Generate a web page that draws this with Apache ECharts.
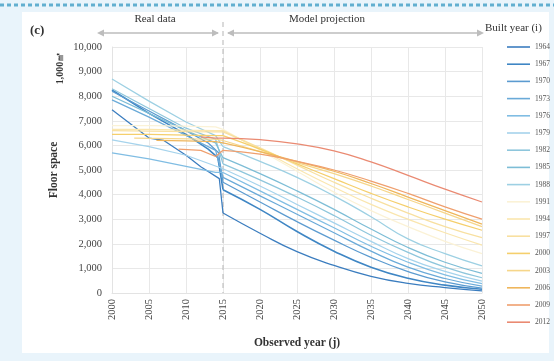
<!DOCTYPE html>
<html>
<head>
<meta charset="utf-8">
<script src="https://cdn.jsdelivr.net/npm/echarts@6/dist/echarts.min.js"></script>
<style>
  html, body { margin: 0; padding: 0; background: #e9f4fb; }
  #chart { width: 554px; height: 361px; }
</style>
</head>
<body>
<div id="chart"></div>
<script>
// Floor space (1,000 m²) by built-year cohort, observed 2000–2050
const builtYears = ['1964','1967','1970','1973','1976','1979','1982','1985','1988',
                    '1991','1994','1997','2000','2003','2006','2009','2012'];
const xTicks = [2000, 2005, 2010, 2015, 2020, 2025, 2030, 2035, 2040, 2045, 2050];
const yTicks = [0, 1000, 2000, 3000, 4000, 5000, 6000, 7000, 8000, 9000, 10000];
const boundaryYear = 2015;

// Observed data: [year, floor space]
const real1964 = [[2000,7450],[2005,6300],[2007,6200],[2010,5600],[2012,5130],[2014.5,4650],[2015,3250]];
const real1967 = [[2000,8250],[2005,7300],[2010,6450],[2013,5850],[2014.3,5500],[2015,4200]];
const real1970 = [[2000,8200],[2005,7400],[2010,6600],[2013,6100],[2014.4,5700],[2015,4500]];
const real1973 = [[2000,7850],[2005,7150],[2010,6400],[2014,5800],[2015,4700]];
const real1976 = [[2000,5700],[2005,5450],[2010,5150],[2014,4900],[2015,4900]];
const real1979 = [[2000,6220],[2005,5950],[2010,5600],[2015,5050]];
const real1982 = [[2000,8300],[2005,7500],[2010,6700],[2014,6250],[2015,5250]];
const real1985 = [[2000,8000],[2005,7300],[2010,6600],[2014,6100],[2015,5500]];
const real1988 = [[2000,8700],[2005,7800],[2010,6950],[2014,6400],[2015,5950]];
const real1991 = [[2000,6800],[2005,6800],[2010,6780],[2014,6750],[2015,6650]];
const real1994 = [[2000,6650],[2005,6650],[2010,6620],[2014,6600],[2015,6600]];
const real1997 = [[2000,6600],[2005,6580],[2010,6560],[2014,6550],[2015,6550]];
const real2000 = [[2000,6450],[2005,6450],[2010,6420],[2014,6400],[2015,6400]];
const real2003 = [[2003,6300],[2008,6280],[2014,6250],[2015,6200]];
const real2006 = [[2006,6200],[2010,6180],[2014,6150],[2015,6100]];
const real2009 = [[2009,5850],[2012,5800],[2014,5550],[2015,5800]];
const real2012 = [[2012,6350],[2014,6300],[2015,6300]];

// Model projection, one value per year in projYears
const projYears = [2015, 2020, 2025, 2030, 2035, 2040, 2045, 2050];
const proj1964 = [3250, 2430, 1680, 1120, 680, 390, 220, 90];
const proj1967 = [4200, 3400, 2500, 1700, 1050, 600, 320, 150];
const proj1970 = [4500, 3700, 2900, 2150, 1450, 870, 450, 200];
const proj1973 = [4700, 3950, 3200, 2450, 1700, 1050, 590, 280];
const proj1976 = [4900, 4150, 3400, 2650, 1900, 1250, 740, 380];
const proj1979 = [5050, 4350, 3600, 2850, 2100, 1400, 880, 480];
const proj1982 = [5250, 4600, 3900, 3150, 2350, 1650, 1050, 620];
const proj1985 = [5500, 4850, 4150, 3400, 2600, 1850, 1250, 800];
const proj1988 = [5950, 5350, 4700, 3950, 3100, 2200, 1600, 1100];
const proj1991 = [6650, 5800, 4950, 4100, 3350, 2700, 2100, 1600];
const proj1994 = [6600, 5850, 5050, 4300, 3600, 3000, 2450, 1950];
const proj1997 = [6550, 5900, 5200, 4500, 3850, 3250, 2700, 2250];
const proj2000 = [6400, 5850, 5250, 4650, 4050, 3500, 3000, 2550];
const proj2003 = [6200, 5750, 5300, 4850, 4350, 3800, 3250, 2700];
const proj2006 = [6100, 5750, 5350, 4950, 4450, 3900, 3350, 2800];
const proj2009 = [5800, 5650, 5350, 5000, 4550, 4050, 3500, 3000];
const proj2012 = [6300, 6230, 6060, 5780, 5330, 4780, 4220, 3700];

const realSets = [real1964, real1967, real1970, real1973, real1976, real1979, real1982, real1985, real1988,
                  real1991, real1994, real1997, real2000, real2003, real2006, real2009, real2012];
const projSets = [proj1964, proj1967, proj1970, proj1973, proj1976, proj1979, proj1982, proj1985, proj1988,
                  proj1991, proj1994, proj1997, proj2000, proj2003, proj2006, proj2009, proj2012];

const palette = ['#3b7dbf','#3f86c4','#5b9bd0','#6aaad8','#80bde3','#a5d3ec','#8ec6dc','#7dbdd6','#9dd0e3',
                 '#fbf2d6','#fae6ae','#f8e0a0','#f5cf6c','#f6d68a','#efb65c','#ef9f6e','#ea8a72'];

const FONT = '"Liberation Serif", "DejaVu Serif", serif';

const chart = echarts.init(document.getElementById('chart'), null, { renderer: 'canvas' });

const series = [];
builtYears.forEach((name, i) => {
  const color = palette[i];
  const width = i === 1 ? 1.6 : 1.25;
  series.push({
    name, type: 'line', data: realSets[i], symbol: 'none', smooth: false,
    lineStyle: { color, width }, itemStyle: { color }, z: 2 + i, silent: true
  });
  series.push({
    name, type: 'line', data: projYears.map((yr, k) => [yr, projSets[i][k]]),
    symbol: 'none', smooth: 0.5,
    lineStyle: { color, width }, itemStyle: { color }, z: 2 + i, silent: true
  });
});

const option = {
  animation: false,
  backgroundColor: '#e9f4fb',
  grid: { left: 112, right: 72, top: 47, bottom: 68 },
  xAxis: {
    type: 'value', min: xTicks[0], max: xTicks[xTicks.length - 1], interval: 5,
    name: 'Observed year (j)', nameLocation: 'middle', nameGap: 44,
    nameTextStyle: { fontFamily: FONT, fontSize: 11.5, fontWeight: 'bold', color: '#333' },
    axisLine: { lineStyle: { color: '#e3e3e3' } },
    axisTick: { show: false },
    axisLabel: { rotate: 90, margin: 6, fontFamily: FONT, fontSize: 10.5, color: '#444',
                 formatter: v => String(v) },
    splitLine: { show: true, lineStyle: { color: '#e8e8e8' } }
  },
  yAxis: {
    type: 'value', min: yTicks[0], max: yTicks[yTicks.length - 1], interval: 1000,
    name: 'Floor space', nameLocation: 'middle', nameGap: 52, nameRotate: 90,
    nameTextStyle: { fontFamily: FONT, fontSize: 11.5, fontWeight: 'bold', color: '#333' },
    axisLine: { show: true, lineStyle: { color: '#e3e3e3' } },
    axisTick: { show: false },
    axisLabel: {
      margin: 10, fontFamily: FONT, fontSize: 10.5, color: '#444',
      formatter: v => v.toLocaleString('en-US')
    },
    splitLine: { show: true, lineStyle: { color: '#e8e8e8' } }
  },
  legend: {
    orient: 'vertical', left: 502, top: 37,
    data: builtYears, icon: 'rect', itemWidth: 23, itemHeight: 1.6, itemGap: 7.2,
    textStyle: { fontFamily: FONT, fontSize: 7.5, lineHeight: 10, color: '#555' },
    selectedMode: false
  },
  series
};

chart.setOption(option);

// Decorations: card, dotted rule, period arrows and the 2015 divider
const bx = chart.convertToPixel({ xAxisIndex: 0 }, boundaryYear);
const y0 = chart.convertToPixel({ yAxisIndex: 0 }, 0);
const ay = 33;
const grey = '#bdbdbd';
function head(x, dir) {
  return { type: 'polygon', z: 1, shape: { points: [[x, ay], [x - 7 * dir, ay - 3.5], [x - 7 * dir, ay + 3.5]] },
           style: { fill: grey } };
}
chart.setOption({
  graphic: [
    { type: 'rect', z: -100, shape: { x: 22, y: 12, width: 527, height: 341 }, style: { fill: '#ffffff' } },
    { type: 'line', z: 1, shape: { x1: 0, y1: 5, x2: 554, y2: 5 },
      style: { stroke: '#62afd0', lineWidth: 3, lineDash: [4, 3] } },
    { type: 'line', z: 1, shape: { x1: bx, y1: 22, x2: bx, y2: y0 },
      style: { stroke: '#b5b5b5', lineWidth: 1, lineDash: [5, 4] } },
    { type: 'line', z: 1, shape: { x1: 99, y1: ay, x2: bx - 5, y2: ay }, style: { stroke: grey, lineWidth: 1.5 } },
    head(97, -1), head(bx - 4, 1),
    { type: 'line', z: 1, shape: { x1: bx + 5, y1: ay, x2: 482, y2: ay }, style: { stroke: grey, lineWidth: 1.5 } },
    head(bx + 4, -1), head(484, 1),
    { type: 'text', z: 5, x: 155, y: 19, style: { text: 'Real data', font: '11px ' + FONT, fill: '#333', align: 'center', verticalAlign: 'middle' } },
    { type: 'text', z: 5, x: 327, y: 19, style: { text: 'Model projection', font: '11px ' + FONT, fill: '#333', align: 'center', verticalAlign: 'middle' } },
    { type: 'text', z: 5, x: 485, y: 28, style: { text: 'Built year (i)', font: '11px ' + FONT, fill: '#333', align: 'left', verticalAlign: 'middle' } },
    { type: 'text', z: 5, x: 30, y: 31, style: { text: '(c)', font: 'bold 13px ' + FONT, fill: '#333', align: 'left', verticalAlign: 'middle' } },
    { type: 'text', z: 5, x: 60, y: 68, rotation: Math.PI / 2,
      style: { text: '1,000㎡', font: 'bold 10px ' + FONT, fill: '#333', align: 'center', verticalAlign: 'middle' } }
  ]
});
</script>
</body>
</html>
